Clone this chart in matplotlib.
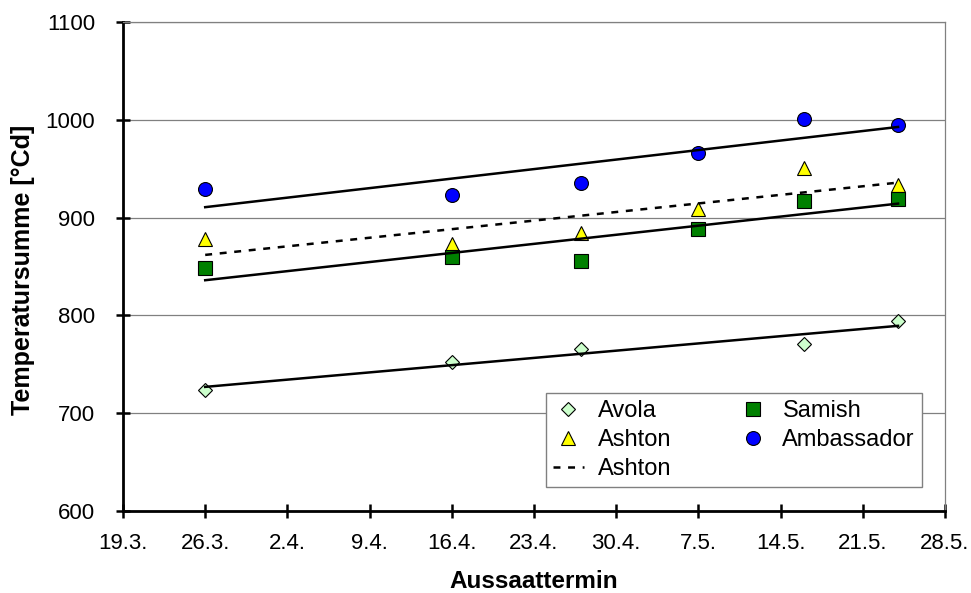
import datetime as dt
import numpy as np
import matplotlib
matplotlib.use("Agg")
import matplotlib.pyplot as plt
from matplotlib.ticker import FuncFormatter, FixedLocator
import matplotlib.dates as mdates

plt.rcParams['font.family'] = ['Liberation Sans', 'DejaVu Sans']
plt.rcParams['lines.scale_dashes'] = False

YEAR = 2005

def d(s):
    day, mon = s.strip('.').split('.')
    return dt.datetime(YEAR, int(mon), int(day))

# ---- data ----
avola_dates = ["26.3.", "16.4.", "27.4.", "16.5.", "24.5."]
avola_vals = [724, 752, 766, 771, 794]

samish_dates = ["26.3.", "16.4.", "27.4.", "7.5.", "16.5.", "24.5."]
samish_vals = [848, 860, 856, 888, 917, 919]

ashton_dates = ["26.3.", "16.4.", "27.4.", "7.5.", "16.5.", "24.5."]
ashton_vals = [878, 873, 884, 909, 951, 933]

ambassador_dates = ["26.3.", "16.4.", "27.4.", "7.5.", "16.5.", "24.5."]
ambassador_vals = [929, 923, 935, 966, 1001, 995]

x_ticks = ["19.3.", "26.3.", "2.4.", "9.4.", "16.4.", "23.4.", "30.4.",
           "7.5.", "14.5.", "21.5.", "28.5."]
y_ticks = [600, 700, 800, 900, 1000, 1100]

fig = plt.figure(figsize=(9.71, 5.93), dpi=100)
ax = fig.add_axes([123/971, 1-511/593, 822/971, 489/593])

TICK_FS = 16
LEG_FS = 17

def num(dates):
    return mdates.date2num([d(s) for s in dates])

series = [
    ("Avola", avola_dates, avola_vals, dict(marker='D', ms=6.8, mfc='#CCFFCC')),
    ("Ashton", ashton_dates, ashton_vals, dict(marker='^', ms=10, mfc='#FFFF00')),
    ("Samish", samish_dates, samish_vals, dict(marker='s', ms=9.5, mfc='#008000')),
    ("Ambassador", ambassador_dates, ambassador_vals, dict(marker='o', ms=10, mfc='#0000FF')),
]
handles = {}
for name, ds, vs, st in series:
    h, = ax.plot(num(ds), vs, linestyle='none', mec='black', mew=0.8,
                 zorder=3, label=name, **st)
    handles[name] = h

# linear trend lines
trend = {}
for name, ds, vs, st in series:
    xn = num(ds)
    k, b = np.polyfit(xn, vs, 1)
    xx = np.array([xn.min(), xn.max()])
    if name == "Ashton":
        l, = ax.plot(xx, k*xx + b, color='black', lw=1.8, dashes=(5, 5.5),
                     zorder=4, label="Ashton")
        trend[name] = l
    else:
        ax.plot(xx, k*xx + b, color='black', lw=1.8, zorder=4)

ax.set_xlim(mdates.date2num(d(x_ticks[0])), mdates.date2num(d(x_ticks[-1])))
ax.set_ylim(600, 1100)
ax.xaxis.set_major_locator(FixedLocator(num(x_ticks)))
ax.xaxis.set_major_formatter(FuncFormatter(
    lambda v, p: f"{mdates.num2date(v).day}.{mdates.num2date(v).month}."))
ax.set_yticks(y_ticks)

ax.grid(axis='y', color='#808080', lw=0.9, zorder=0)
ax.set_axisbelow(True)
for s in ['top', 'right']:
    ax.spines[s].set_color('#808080')
    ax.spines[s].set_linewidth(0.9)
for s in ['left', 'bottom']:
    ax.spines[s].set_color('black')
    ax.spines[s].set_linewidth(2.0)
ax.tick_params(direction='inout', length=10, width=1.8, labelsize=TICK_FS, color='black')
ax.tick_params(axis='x', pad=11)
ax.tick_params(axis='y', pad=15)

ax.set_xlabel("Aussaattermin", fontsize=17.5, fontweight='bold')
ax.set_ylabel("Temperatursumme [°Cd]", fontsize=18, fontweight='bold')
ax.xaxis.set_label_coords(0.5, -0.12)
ax.yaxis.set_label_coords(-0.107, 0.493)

hl = [handles["Avola"], handles["Ashton"], trend["Ashton"],
      handles["Samish"], handles["Ambassador"]]
leg = ax.legend(hl, [h.get_label() for h in hl], ncol=2, loc='lower right',
                bbox_to_anchor=(0.972, 0.049), fontsize=LEG_FS, frameon=True,
                fancybox=False, edgecolor='#808080', framealpha=1,
                borderpad=0.3, labelspacing=0.3, handlelength=1.3,
                handletextpad=0.6, columnspacing=2.8, borderaxespad=0)
leg.get_frame().set_linewidth(1.0)
leg.set_zorder(5)

fig.savefig("out.png", dpi=100)
